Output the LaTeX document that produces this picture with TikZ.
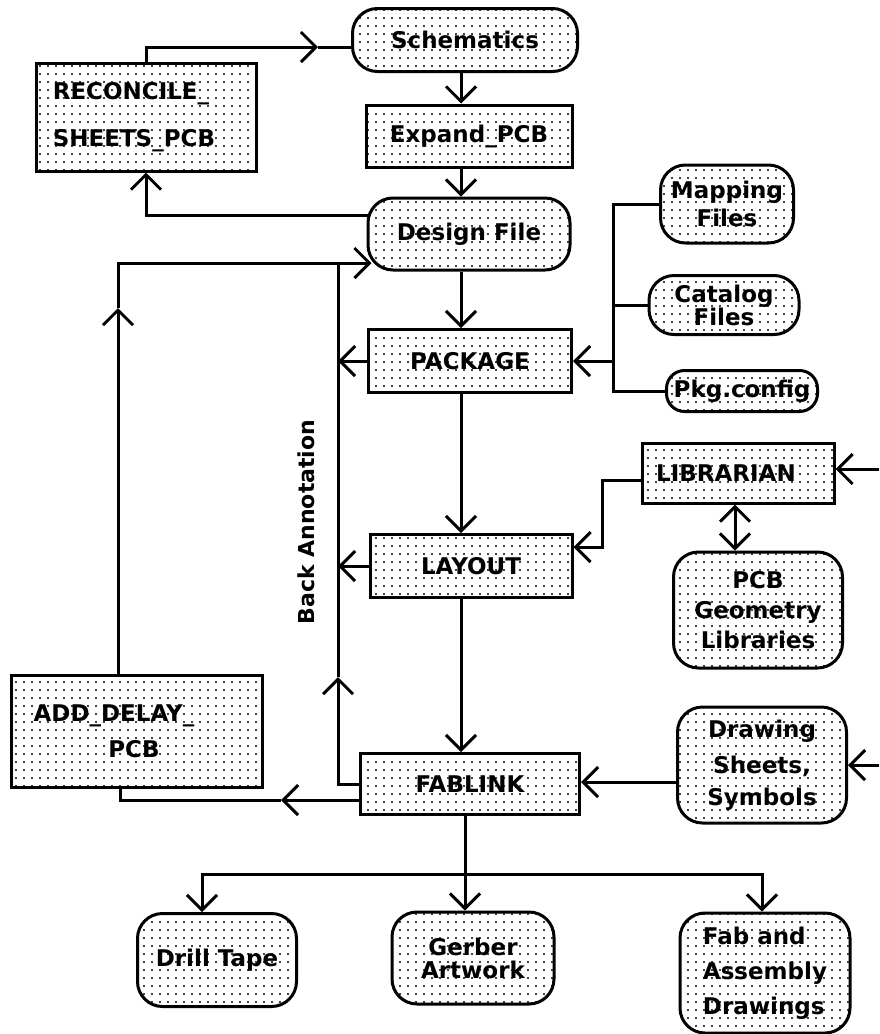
\documentclass[tikz,border=0pt]{standalone}
\usepackage{fontspec}
\setsansfont{DejaVu Sans}
\usetikzlibrary{arrows.meta,patterns.meta,calc}
\tikzset{
  base/.style={draw, line width=3pt, pattern={Dots[distance=8pt,radius=1.05pt]},
    font=\sffamily\bfseries\fontsize{23}{27}\selectfont, align=center, inner sep=0pt},
  sq/.style={base},
  rnd/.style={base, rounded corners=25pt},
  conn/.style={line width=3pt},
  barb/.tip={Straight Barb[length=15pt,width=30pt]},
  arr/.style={conn, -barb},
  darr/.style={conn, barb-barb},
}
\begin{document}
\begin{tikzpicture}[x=1pt,y=-1pt]
\useasboundingbox (0,0) rectangle (879,1034);

% nodes
\node[rnd, minimum width=225pt, minimum height=63pt] (sch) at (465,40) {Schematics};
\node[sq, minimum width=206pt, minimum height=62pt] (exp) at (469,136) {Expand\_PCB};
\node[rnd, minimum width=202pt, minimum height=72pt] (des) at (469,234) {Design File};
\node[sq, minimum width=203pt, minimum height=63pt] (pkg) at (470,361) {PACKAGE};
\node[sq, minimum width=202pt, minimum height=63pt] (lay) at (471,566) {LAYOUT};
\node[sq, minimum width=219pt, minimum height=61pt] (fab) at (470,784) {FABLINK};
\node[sq, minimum width=220pt, minimum height=108pt, align=left] (rec) at (146,117) {RECONCILE\_\hspace*{30pt}\\[20pt]SHEETS\_PCB};
\node[sq, minimum width=251pt, minimum height=112pt] (add) at (137,731) {ADD\_DELAY\_\hspace*{46pt}\\[9pt]PCB\hspace*{6pt}};
\node[rnd, minimum width=133pt, minimum height=78pt] (map) at (727,204) {Mapping\\[1pt]Files};
\node[rnd, minimum width=150pt, minimum height=59pt] (cat) at (724,305) {Catalog\\[-4pt]Files};
\node[rnd, rounded corners=18pt, minimum width=151pt, minimum height=41pt] (pkc) at (742,391) {Pkg.config};
\node[sq, minimum width=192pt, minimum height=60pt] (lib) at (738,473) {LIBRARIAN\hspace*{24pt}};
\node[rnd, minimum width=169pt, minimum height=116pt] (geo) at (758,610) {PCB\\[3pt]Geometry\\[3pt]Libraries};
\node[rnd, minimum width=169pt, minimum height=116pt] (drw) at (762,765) {Drawing\\[9pt]Sheets,\\[5pt]Symbols};
\node[rnd, minimum width=159pt, minimum height=93pt] (dri) at (217,960) {Drill Tape};
\node[rnd, minimum width=162pt, minimum height=92pt] (ger) at (473,958) {Gerber\\[-4pt]Artwork};
\node[rnd, minimum width=170pt, minimum height=120pt, align=left] (fad) at (765,973) {Fab and\\[8pt]Assembly\\[8pt]Drawings};
\node[rotate=90, font=\sffamily\bfseries\fontsize{22}{26}\selectfont] (bat) at (306,522) {Back Annotation};

% main column
\coordinate (cx) at (461,0);
\draw[arr] (sch.south -| cx) -- (exp.north -| cx);
\draw[arr] (exp.south -| cx) -- (des.north -| cx);
\draw[arr] (des.south -| cx) -- (pkg.north -| cx);
\draw[arr] (pkg.south -| cx) -- (lay.north -| cx);
\draw[arr] (lay.south -| cx) -- (fab.north -| cx);

% reconcile loop
\coordinate (r2) at (318,47);
\draw[arr] (rec.north) |- (r2);
\draw[conn] (r2) -- (sch.west |- r2);
\draw[arr] ($(des.west)+(2,-19)$) -| (rec.south);

% feedback to design file
\coordinate (tl) at (118,263);
\coordinate (up1) at (118,308);
\coordinate (ba) at (338,263);
\coordinate (bu) at (338,677);
\draw[arr] (add.north -| tl) -- (up1);
\draw[arr] (up1) -- (tl) -- ($(des.west |- tl)+(5,0)$);
\draw[arr] (fab.west) -| (bu);
\draw[conn] (bu) -- (ba);
\draw[arr] (pkg.west) -- (pkg.west -| ba);
\draw[arr] (lay.west) -- (lay.west -| ba);

% fablink to add_delay
\coordinate (bl) at (120,800);
\coordinate (bm) at (281,800);
\draw[arr] (fab.west |- bl) -- (bm);
\draw[conn] (bm) -- (bl) -- (add.south -| bl);

% config bus
\coordinate (bus) at (613,0);
\draw[conn] (map.west) -| (bus |- pkc.west) -- (pkc.west);
\draw[conn] (cat.west) -- (cat.west -| bus);
\draw[arr] (pkg.east -| bus) -- (pkg.east);

% librarian
\coordinate (l1) at (602,480);
\coordinate (l2) at (602,547);
\draw[arr] (lib.west |- l1) -- (l1) -- (l2) -- (lay.east |- l2);
\coordinate (e1) at (879,469);
\draw[arr] (e1) -- (lib.east |- e1);
\coordinate (gx) at (735,0);
\draw[darr] (lib.south -| gx) -- (geo.north -| gx);

% drawing sheets
\coordinate (e2) at (879,765);
\draw[arr] (e2) -- (drw.east |- e2);
\coordinate (d1) at (0,782);
\draw[arr] (drw.west |- d1) -- (fab.east |- d1);

% outputs
\coordinate (h) at (465,874);
\coordinate (hl) at (202,874);
\coordinate (hr) at (762,874);
\draw[arr] (fab.south -| h) -- (ger.north -| h);
\draw[arr] (h) -| (dri.north -| hl);
\draw[arr] (h) -| (fad.north -| hr);
\end{tikzpicture}
\end{document}
